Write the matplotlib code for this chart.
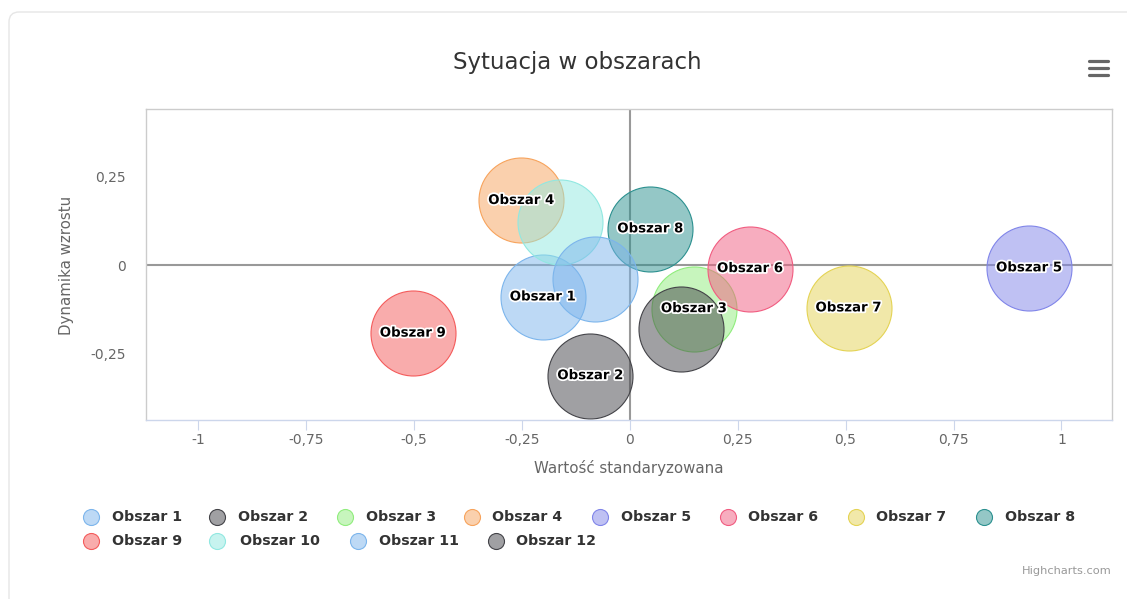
import matplotlib
matplotlib.use("Agg")
import matplotlib.pyplot as plt
from matplotlib.patches import FancyBboxPatch
import matplotlib.patheffects as pe
from matplotlib.ticker import FixedLocator, FuncFormatter

plt.rcParams['font.family'] = ['DejaVu Sans']

# ---- data ----
names = ["Obszar 1", "Obszar 2", "Obszar 3", "Obszar 4", "Obszar 5", "Obszar 6",
         "Obszar 7", "Obszar 8", "Obszar 9", "Obszar 10", "Obszar 11", "Obszar 12"]
x_vals = [-0.201, -0.091, 0.149, -0.251, 0.925, 0.279, 0.507, 0.048, -0.502, -0.162, -0.081, 0.118]
y_vals = [-0.090, -0.312, -0.123, 0.182, -0.008, -0.010, -0.121, 0.102, -0.192, 0.121, -0.039, -0.181]
z_vals = [1, 1, 1, 1, 1, 1, 1, 1, 1, 1, 1, 1]
show_label = [True, True, True, True, True, True, True, True, True, False, False, False]
colors = ['#7cb5ec', '#434348', '#90ed7d', '#f7a35c', '#8085e9', '#f15c80',
          '#e4d354', '#2b908f', '#f45b5b', '#91e8e1', '#7cb5ec', '#434348']
x_ticks = [-1, -0.75, -0.5, -0.25, 0, 0.25, 0.5, 0.75, 1]
y_ticks = [-0.25, 0, 0.25]
title = "Sytuacja w obszarach"
x_title = "Wartość standaryzowana"
y_title = "Dynamika wzrostu"

W, H = 1127, 599
fig = plt.figure(figsize=(W / 100, H / 100), dpi=100)
fig.patch.set_facecolor('white')

# background / overlay axes in pixel coordinates
bg = fig.add_axes([0, 0, 1, 1], zorder=-1)
bg.set_xlim(0, W)
bg.set_ylim(H, 0)
bg.axis('off')
card = FancyBboxPatch((9, 12), 1300, 800, boxstyle="round,pad=0,rounding_size=10",
                      facecolor='white', edgecolor='#e6e6e6', lw=1)
bg.add_patch(card)

# main plot area
L, R, T, B = 146, 1112, 109, 420
ax = fig.add_axes([L / W, 1 - B / H, (R - L) / W, (B - T) / H])
ax.set_facecolor('white')
ax.set_xlim(-1.12, 1.117)
ax.set_ylim(-0.437, 0.440)

for s in ['top', 'left', 'right']:
    ax.spines[s].set_color('#cccccc')
    ax.spines[s].set_linewidth(1)
ax.spines['bottom'].set_color('#ccd6eb')
ax.spines['bottom'].set_linewidth(1)

def fmt(v, pos=None):
    s = ('%g' % v).replace('.', ',')
    return s

ax.xaxis.set_major_locator(FixedLocator(x_ticks))
ax.yaxis.set_major_locator(FixedLocator(y_ticks))
ax.xaxis.set_major_formatter(FuncFormatter(fmt))
ax.yaxis.set_major_formatter(FuncFormatter(fmt))
ax.tick_params(axis='x', direction='out', length=7.2, width=0.8, color='#ccd6eb',
               labelcolor='#666666', labelsize=10, pad=2.5)
ax.tick_params(axis='y', length=0, labelcolor='#666666', labelsize=10, pad=14.4)

# zero plot lines
ax.axhline(0, color='#999999', lw=1.5, zorder=1)
ax.axvline(0, color='#999999', lw=1.5, zorder=1)

diam_pt = 85 * 0.72
zmax = max(z_vals)
for i in range(len(names)):
    ax.scatter([x_vals[i]], [y_vals[i]], s=(diam_pt ** 2) * z_vals[i] / zmax,
               facecolor=colors[i], edgecolor=colors[i], alpha=None,
               linewidths=0.8, zorder=2 + i * 0.01,
               c=None)
    ax.collections[-1].set_facecolor(matplotlib.colors.to_rgba(colors[i], 0.5))
    ax.collections[-1].set_edgecolor(matplotlib.colors.to_rgba(colors[i], 1.0))

for i in range(len(names)):
    if show_label[i]:
        ax.text(x_vals[i], y_vals[i], names[i], ha='center', va='center',
                fontsize=9.6, fontweight='bold', color='black', zorder=10,
                path_effects=[pe.withStroke(linewidth=2.5, foreground='white')])

# titles
bg.text(577, 63, title, ha='center', va='center', fontsize=16.5, color='#333333')
bg.text((L + R) / 2, 468, x_title, ha='center', va='center', fontsize=10.8, color='#666666')
bg.text(67, 265, y_title, ha='center', va='center', rotation=90, fontsize=10.8, color='#666666')
bg.text(1112, 571, "Highcharts.com", ha='right', va='center', fontsize=8.2, color='#999999')

# hamburger menu icon
for yy in [61, 67.7, 74.5]:
    bg.plot([1088.5, 1107.5], [yy, yy], color='#666666', lw=2.3, solid_capstyle='round')

# legend
leg_marker_x = [91, 217, 345, 472, 600, 728, 856, 984, 91, 217, 358, 496]
leg_text_x = [112, 238, 366, 492, 621, 748, 876, 1005, 112, 240, 379, 516]
leg_y = [517, 517, 517, 517, 517, 517, 517, 517, 541, 541, 541, 541]
for i in range(len(names)):
    bg.scatter([leg_marker_x[i]], [leg_y[i]], s=(16 * 0.72) ** 2,
               facecolor=matplotlib.colors.to_rgba(colors[i], 0.5),
               edgecolor=colors[i], linewidths=0.8)
    bg.text(leg_text_x[i], leg_y[i], names[i], ha='left', va='center',
            fontsize=10.2, fontweight='bold', color='#333333')

fig.savefig('out.png', dpi=100, facecolor='white')
